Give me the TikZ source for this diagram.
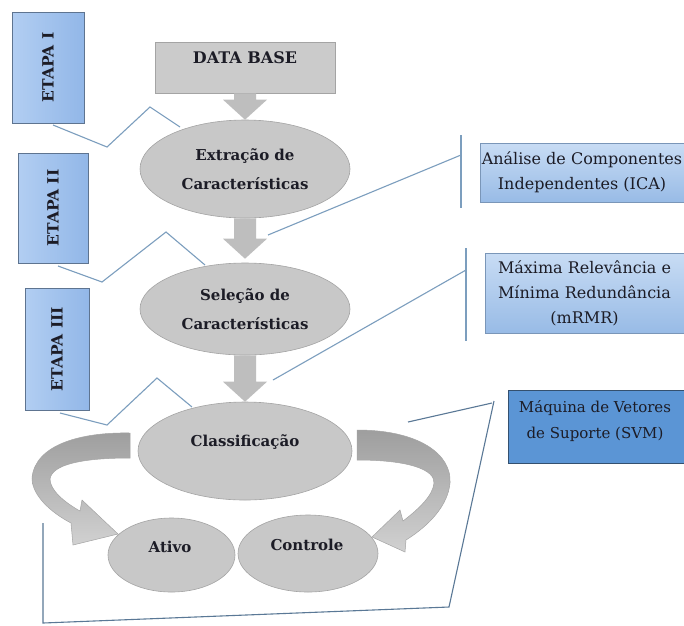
\documentclass[tikz,border=0pt]{standalone}
\usepackage{fontspec}
\setmainfont{DejaVu Serif}
\usetikzlibrary{shapes.geometric,calc}
\definecolor{grayfill}{HTML}{C8C8C8}
\definecolor{grayedge}{HTML}{A4A4A4}
\definecolor{arrowgray}{HTML}{BEBEBE}
\definecolor{linecol}{HTML}{7C9EBE}
\definecolor{svmline}{HTML}{5A7896}
\definecolor{svmblue}{HTML}{5B95D5}
\definecolor{svmedge}{HTML}{34506F}
\definecolor{txt}{HTML}{1C1C26}
\definecolor{stageL}{HTML}{B2CEF2}
\definecolor{stageR}{HTML}{92B7E8}
\definecolor{stageedge}{HTML}{5E7490}
\definecolor{methT}{HTML}{C8DCF4}
\definecolor{methB}{HTML}{98BBE6}
\begin{document}
\begin{tikzpicture}[x=1pt,y=-1pt,
  every node/.style={text=txt},
  boldtext/.style={font=\fontsize{15}{29}\selectfont\bfseries, align=center},
  plaintext/.style={font=\fontsize{16}{25}\selectfont, align=center},
  stagebox/.style={rectangle, draw=stageedge, line width=0.6pt,
    left color=stageL, right color=stageR, inner sep=0pt},
  methbox/.style={rectangle, draw=methB!80!black, line width=0.4pt,
    top color=methT, bottom color=methB, inner sep=0pt, plaintext},
  grayell/.style={ellipse, draw=grayedge, line width=0.6pt, fill=grayfill,
    inner sep=0pt, boldtext},
  bracket/.style={draw=linecol, line width=1.1pt},
  svmbracket/.style={draw=svmline, line width=1.1pt},
  curvearrow/.style={draw=grayedge, line width=0.5pt, top color=black!38, bottom color=black!18},
  stagetext/.style={font=\fontsize{15.5}{20}\selectfont\bfseries, rotate=90},
]
\useasboundingbox (0,0) rectangle (684,625);
\fill[white] (0,0) rectangle (684,625);

% bracket lines
\draw[bracket] (53,125) -- (107,147) -- (150,107) -- (180,127);
\draw[bracket] (58,266) -- (102,282) -- (166,232) -- (205,265);
\draw[bracket] (60,413) -- (107,425) -- (157,378) -- (192,407);
\draw[bracket] (268,235) -- (461,155);
\draw[bracket] (461,135) -- (461,208);
\draw[bracket] (273,380) -- (466,270);
\draw[bracket] (466,248) -- (466,341);
\draw[svmbracket] (408,422) -- (492,403);
\draw[svmbracket] (494,401) -- (449,607) -- (43,623) -- (43,523);

% stage boxes
\node[stagebox, minimum width=72pt, minimum height=111pt] (s1) at (48,67.5) {};
\node[stagetext] at (s1.center) {ETAPA I};
\node[stagebox, minimum width=70pt, minimum height=110pt] (s2) at (53,208) {};
\node[stagetext] at (s2.center) {ETAPA II};
\node[stagebox, minimum width=64pt, minimum height=122pt] (s3) at (57,349) {};
\node[stagetext] at (s3.center) {ETAPA III};

% method boxes
\node[methbox, minimum width=204pt, minimum height=59pt] (ica) at (582,172.5)
  {Análise de Componentes\\Independentes (ICA)};
\node[methbox, minimum width=199pt, minimum height=80pt] (mrmr) at (584.5,293)
  {Máxima Relevância e\\Mínima Redundância\\(mRMR)};
\node[rectangle, draw=svmedge, line width=0.8pt, fill=svmblue, inner sep=0pt,
  minimum width=176pt, minimum height=73pt, anchor=north west] (svm) at (508,390) {};
\node[font=\fontsize{15}{26}\selectfont, align=center] at (595,421)
  {Máquina de Vetores\\de Suporte (SVM)};

% data base
\node[rectangle, draw=grayedge, line width=0.6pt, fill=grayfill!95!white,
  minimum width=180pt, minimum height=51pt, inner sep=0pt] (db) at (245,67.5) {};
\node[font=\fontsize{16}{22}\selectfont\bfseries] at (245,58) {DATA BASE};

% ellipses
\node[grayell, minimum width=210pt, minimum height=98pt] (ext) at (245,169)
  {Extração de\\Características};
\node[grayell, minimum width=210pt, minimum height=92pt] (sel) at (245,309)
  {Seleção de\\Características};
\node[grayell, minimum width=214pt, minimum height=98pt] (cls) at (245,451) {};
\node[boldtext] at (245,442) {Classificação};
\node[grayell, minimum width=127pt, minimum height=74pt] (ativo) at (171.5,555) {};
\node[boldtext] at (170,547) {Ativo};
\node[grayell, minimum width=140pt, minimum height=77pt] (ctrl) at (308,553.5) {};
\node[boldtext] at (307,545) {Controle};

% straight down arrows
\newcommand{\dnarrow}[2]{%
  \fill[arrowgray] ($(#1)+(-11,0)$) -- ($(#2)+(-11,-20)$) -- ($(#2)+(-22,-20)$)
    -- (#2) -- ($(#2)+(22,-20)$) -- ($(#2)+(11,-20)$) -- ($(#1)+(11,0)$) -- cycle;}
\dnarrow{db.south}{ext.north}
\dnarrow{ext.south}{$(sel.north)+(0,-4)$}
\dnarrow{sel.south}{cls.north}

% curved arrows
\path[curvearrow] (130,433) .. controls (80,432) and (35,445) .. (32,478)
  .. controls (32,495) and (50,512) .. (71,523) -- (73,545) -- (118,534) -- (82,500)
  -- (80,511) .. controls (64,502) and (50,490) .. (50,479)
  .. controls (52,465) and (80,458) .. (130,458) -- cycle;
\path[curvearrow] (357,430) .. controls (420,430) and (452,455) .. (450,483)
  .. controls (448,505) and (430,525) .. (406,540) -- (405,552) -- (372,537) -- (400,510)
  -- (403,521) .. controls (420,508) and (433,495) .. (434,483)
  .. controls (435,470) and (410,460) .. (357,460) -- cycle;
\end{tikzpicture}
\end{document}
